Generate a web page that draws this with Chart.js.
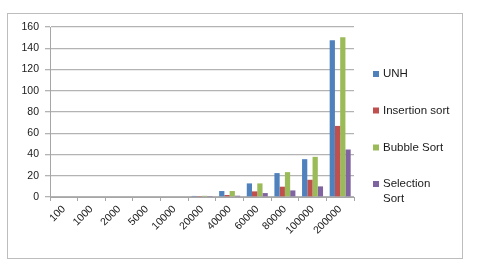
<!DOCTYPE html>
<html lang="en">
<head>
    <meta charset="UTF-8">
    <title>Sort timings</title>
    <script src="https://cdn.jsdelivr.net/npm/chart.js"></script>
<style>
    body {
        margin: 0;
        background: #fff;
    }
    canvas {
        display: block;
    }
</style>
</head>
<body>
<canvas id="myChart" width="480" height="266"></canvas>

<script>
    // input sizes (x axis)
    const sizes = ['100', '1000', '2000', '5000', '10000', '20000', '40000', '60000', '80000', '100000', '200000'];

    // series values
    const unh       = [0, 0, 0, 0, 0, 1.0, 5.6, 12.8, 22.5, 35.6, 147.6];
    const insertion = [0, 0, 0, 0, 0, 0.3, 1.9, 5.3, 9.7, 16.2, 66.9];
    const bubble    = [0, 0, 0, 0, 0, 1.1, 5.6, 12.8, 23.4, 37.8, 150.4];
    const selection = [0, 0, 0, 0, 0, 0.3, 1.2, 3.7, 6.2, 10.0, 44.7];

    const seriesNames = ['UNH', 'Insertion sort', 'Bubble Sort', 'Selection Sort'];
    const legendLines = [['UNH'], ['Insertion sort'], ['Bubble Sort'], ['Selection', 'Sort']];
    const yTicks = [0, 20, 40, 60, 80, 100, 120, 140, 160];

    const colors = ['#4F81BD', '#C0504D', '#9BBB59', '#8064A2'];
    const FONT = '"Liberation Sans", Arial, sans-serif';

    // frame around whole chart + legend on the right
    const excelLook = {
        id: 'excelLook',
        beforeDraw(chart) {
            const c = chart.ctx;
            c.save();
            c.fillStyle = '#fff';
            c.fillRect(0, 0, chart.width, chart.height);
            c.strokeStyle = '#bdbdbd';
            c.lineWidth = 1;
            c.strokeRect(7.5, 13.5, 455, 245);
            c.restore();
        },
        afterDraw(chart) {
            const c = chart.ctx;
            c.save();
            c.font = '11.5px ' + FONT;
            c.textBaseline = 'middle';
            const rows = [74, 110.5, 147.5, 184];
            chart.data.datasets.forEach((ds, i) => {
                c.fillStyle = ds.backgroundColor;
                c.fillRect(373, rows[i] - 3, 6, 6);
                c.fillStyle = '#1a1a1a';
                legendLines[i].forEach((t, j) => {
                    c.fillText(t, 383, rows[i] + j * 15);
                });
            });
            c.restore();
        }
    };

    const ctx = document.getElementById('myChart').getContext('2d');
    const myChart = new Chart(ctx, {
        type: 'bar',
        data: {
            labels: sizes,
            datasets: [unh, insertion, bubble, selection].map((d, i) => ({
                label: seriesNames[i],
                data: d,
                backgroundColor: colors[i],
                borderWidth: 0,
                barPercentage: 1,
                categoryPercentage: 0.76
            }))
        },
        plugins: [excelLook],
        options: {
            responsive: false,
            animation: false,
            layout: {
                padding: { left: 0, top: 27, right: 126, bottom: 0 }
            },
            plugins: {
                legend: { display: false },
                tooltip: { enabled: false }
            },
            scales: {
                x: {
                    grid: {
                        display: true,
                        drawOnChartArea: false,
                        drawTicks: true,
                        tickLength: 4,
                        offset: true,
                        color: '#a6a6a6'
                    },
                    border: { color: '#a6a6a6' },
                    ticks: {
                        minRotation: 45,
                        maxRotation: 45,
                        autoSkip: false,
                        padding: 2,
                        color: '#1a1a1a',
                        font: { family: FONT, size: 10.5 }
                    },
                    afterFit(scale) { scale.height = 69; }
                },
                y: {
                    min: 0,
                    max: 160,
                    afterBuildTicks(scale) {
                        scale.ticks = yTicks.map(v => ({ value: v }));
                    },
                    grid: {
                        color: '#b3b3b3',
                        lineWidth: 1.3,
                        tickLength: 5
                    },
                    border: { color: '#a6a6a6' },
                    ticks: {
                        padding: 6,
                        color: '#1a1a1a',
                        font: { family: FONT, size: 10.5 }
                    },
                    afterFit(scale) { scale.width = 50; }
                }
            }
        }
    });
</script>

</body>
</html>
